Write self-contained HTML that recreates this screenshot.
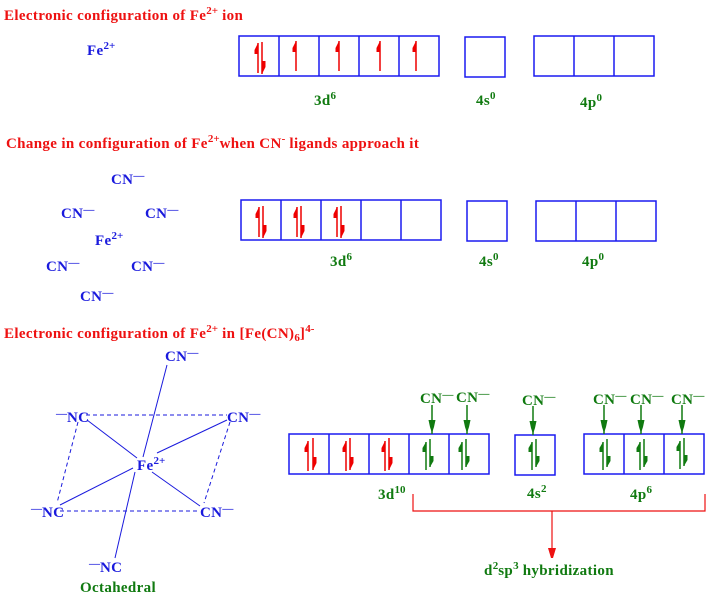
<!DOCTYPE html>
<html><head><meta charset="utf-8"><style>
html,body{margin:0;padding:0;background:#fff;}
svg{display:block;font-family:"Liberation Serif",serif;font-weight:bold;}
text{letter-spacing:0.35px;}
.r{fill:#ee1111;font-size:15px;}
.b{fill:#1a1add;font-size:15px;}
.g{fill:#107a10;font-size:15px;}
.sp{font-size:11px;letter-spacing:0;}
</style></head><body>
<svg width="712" height="597" viewBox="0 0 712 597" xmlns="http://www.w3.org/2000/svg">
<defs>
<g id="ur"><line x1="0" y1="0" x2="0" y2="30" stroke="#ee0000" stroke-width="1.5"/><polygon points="0,0 0,11 -3.5,11 -3.5,7" fill="#ee0000"/></g>
<g id="dr"><line x1="0" y1="0" x2="0" y2="32" stroke="#ee0000" stroke-width="1.5"/><polygon points="0,32 0,19 3.5,19 3.5,25" fill="#ee0000"/></g>
<g id="ug"><line x1="0" y1="0" x2="0" y2="28" stroke="#107a10" stroke-width="1.5"/><polygon points="0,0 0,10 -3.5,10 -3.5,6" fill="#107a10"/></g>
<g id="dg"><line x1="0" y1="0" x2="0" y2="28" stroke="#107a10" stroke-width="1.5"/><polygon points="0,28 0,17 3.5,17 3.5,22" fill="#107a10"/></g>
<g id="ag"><line x1="0" y1="0" x2="0" y2="29" stroke="#107a10" stroke-width="1.5"/><polygon points="-3.5,15 3.5,15 2,22 0,28 -2,22" fill="#107a10"/></g>
</defs>

<text x="4" y="20" class="r">Electronic configuration of Fe<tspan class="sp" dy="-6">2+</tspan><tspan dy="6"> ion</tspan></text>
<text x="6" y="148" class="r">Change in configuration of Fe<tspan class="sp" dy="-6">2+</tspan><tspan dy="6">when CN</tspan><tspan class="sp" dy="-6">-</tspan><tspan dy="6"> ligands approach it</tspan></text>
<text x="4" y="338" class="r">Electronic configuration of Fe<tspan class="sp" dy="-6">2+</tspan><tspan dy="6"> in [Fe(CN)</tspan><tspan class="sp" dy="3">6</tspan><tspan dy="-3">]</tspan><tspan class="sp" dy="-6">4-</tspan></text>

<text x="87" y="55" class="b">Fe<tspan class="sp" dy="-6">2+</tspan></text>
<g fill="none" stroke="#1a1af0" stroke-width="1.5">
<rect x="239" y="36" width="200" height="40"/>
<line x1="279" y1="36" x2="279" y2="76"/><line x1="319" y1="36" x2="319" y2="76"/><line x1="359" y1="36" x2="359" y2="76"/><line x1="399" y1="36" x2="399" y2="76"/>
<rect x="465" y="37" width="40" height="40"/>
<rect x="534" y="36" width="120" height="40"/>
<line x1="574" y1="36" x2="574" y2="76"/><line x1="614" y1="36" x2="614" y2="76"/>
</g>
<use href="#ur" x="258" y="43"/><use href="#dr" x="262" y="42"/>
<use href="#ur" x="296" y="41"/><use href="#ur" x="339" y="41"/><use href="#ur" x="380" y="41"/><use href="#ur" x="416" y="41"/>
<text x="314" y="105" class="g">3d<tspan class="sp" dy="-6">6</tspan></text>
<text x="476" y="105" class="g">4s<tspan class="sp" dy="-6">0</tspan></text>
<text x="580" y="107" class="g">4p<tspan class="sp" dy="-6">0</tspan></text>

<text x="111" y="184" class="b">CN<tspan class="sp" dy="-5">—</tspan></text>
<text x="61" y="218" class="b">CN<tspan class="sp" dy="-5">—</tspan></text>
<text x="145" y="218" class="b">CN<tspan class="sp" dy="-5">—</tspan></text>
<text x="95" y="245" class="b">Fe<tspan class="sp" dy="-6">2+</tspan></text>
<text x="46" y="271" class="b">CN<tspan class="sp" dy="-5">—</tspan></text>
<text x="131" y="271" class="b">CN<tspan class="sp" dy="-5">—</tspan></text>
<text x="80" y="301" class="b">CN<tspan class="sp" dy="-5">—</tspan></text>
<g fill="none" stroke="#1a1af0" stroke-width="1.5">
<rect x="241" y="200" width="200" height="40"/>
<line x1="281" y1="200" x2="281" y2="240"/><line x1="321" y1="200" x2="321" y2="240"/><line x1="361" y1="200" x2="361" y2="240"/><line x1="401" y1="200" x2="401" y2="240"/>
<rect x="467" y="201" width="40" height="40"/>
<rect x="536" y="201" width="120" height="40"/>
<line x1="576" y1="201" x2="576" y2="241"/><line x1="616" y1="201" x2="616" y2="241"/>
</g>
<use href="#ur" x="259" y="207"/><use href="#dr" x="263" y="206"/>
<use href="#ur" x="297" y="207"/><use href="#dr" x="301" y="206"/>
<use href="#ur" x="337" y="207"/><use href="#dr" x="341" y="206"/>
<text x="330" y="266" class="g">3d<tspan class="sp" dy="-6">6</tspan></text>
<text x="479" y="266" class="g">4s<tspan class="sp" dy="-6">0</tspan></text>
<text x="582" y="266" class="g">4p<tspan class="sp" dy="-6">0</tspan></text>

<g stroke="#1a1add" stroke-width="1" fill="none">
<line x1="167" y1="365" x2="143" y2="457"/>
<line x1="135" y1="472" x2="115" y2="558"/>
<line x1="87" y1="420" x2="137" y2="458"/>
<line x1="227" y1="420" x2="157" y2="453"/>
<line x1="60" y1="505" x2="133" y2="468"/>
<line x1="152" y1="472" x2="200" y2="506"/>
<g stroke-dasharray="4,3">
<line x1="86" y1="415" x2="227" y2="415"/>
<line x1="60" y1="511" x2="200" y2="511"/>
<line x1="78" y1="422" x2="57" y2="503"/>
<line x1="230" y1="422" x2="204" y2="503"/>
</g>
</g>
<text x="165" y="361" class="b">CN<tspan class="sp" dy="-5">—</tspan></text>
<text x="56" y="422" class="b"><tspan class="sp" dy="-5">—</tspan><tspan dy="5">NC</tspan></text>
<text x="227" y="422" class="b">CN<tspan class="sp" dy="-5">—</tspan></text>
<text x="137" y="470" class="b">Fe<tspan class="sp" dy="-6">2+</tspan></text>
<text x="31" y="517" class="b"><tspan class="sp" dy="-5">—</tspan><tspan dy="5">NC</tspan></text>
<text x="200" y="517" class="b">CN<tspan class="sp" dy="-5">—</tspan></text>
<text x="89" y="572" class="b"><tspan class="sp" dy="-5">—</tspan><tspan dy="5">NC</tspan></text>
<text x="80" y="592" class="g">Octahedral</text>

<g fill="none" stroke="#1a1af0" stroke-width="1.5">
<rect x="289" y="434" width="200" height="40"/>
<line x1="329" y1="434" x2="329" y2="474"/><line x1="369" y1="434" x2="369" y2="474"/><line x1="409" y1="434" x2="409" y2="474"/><line x1="449" y1="434" x2="449" y2="474"/>
<rect x="515" y="435" width="40" height="40"/>
<rect x="584" y="434" width="120" height="40"/>
<line x1="624" y1="434" x2="624" y2="474"/><line x1="664" y1="434" x2="664" y2="474"/>
</g>
<use href="#ur" x="308" y="441"/><use href="#dr" x="313" y="438"/>
<use href="#ur" x="346" y="441"/><use href="#dr" x="350" y="438"/>
<use href="#ur" x="385" y="441"/><use href="#dr" x="389" y="438"/>
<use href="#ug" x="426" y="442"/><use href="#dg" x="430" y="439"/>
<use href="#ug" x="462" y="442"/><use href="#dg" x="466" y="439"/>
<use href="#ug" x="532" y="442"/><use href="#dg" x="536" y="439"/>
<use href="#ug" x="603" y="442"/><use href="#dg" x="607" y="439"/>
<use href="#ug" x="640" y="442"/><use href="#dg" x="644" y="439"/>
<use href="#ug" x="680" y="441"/><use href="#dg" x="684" y="438"/>

<text x="420" y="403" class="g">CN<tspan class="sp" dy="-5">—</tspan></text>
<text x="456" y="402" class="g">CN<tspan class="sp" dy="-5">—</tspan></text>
<text x="522" y="405" class="g">CN<tspan class="sp" dy="-5">—</tspan></text>
<text x="593" y="404" class="g">CN<tspan class="sp" dy="-5">—</tspan></text>
<text x="630" y="404" class="g">CN<tspan class="sp" dy="-5">—</tspan></text>
<text x="671" y="404" class="g">CN<tspan class="sp" dy="-5">—</tspan></text>
<use href="#ag" x="432" y="405"/><use href="#ag" x="467" y="405"/><use href="#ag" x="533" y="406"/>
<use href="#ag" x="604" y="405"/><use href="#ag" x="641" y="405"/><use href="#ag" x="682" y="405"/>

<text x="378" y="499" class="g">3d<tspan class="sp" dy="-6">10</tspan></text>
<text x="527" y="498" class="g">4s<tspan class="sp" dy="-6">2</tspan></text>
<text x="630" y="499" class="g">4p<tspan class="sp" dy="-6">6</tspan></text>

<g stroke="#ee1111" stroke-width="1.2" fill="none">
<polyline points="413,494 413,511 705,511 705,494"/>
<line x1="552" y1="511" x2="552" y2="558"/>
</g>
<polygon points="548,548 556,548 553,558 551,558" fill="#ee1111"/>
<text x="484" y="575" class="g">d<tspan class="sp" dy="-6">2</tspan><tspan dy="6">sp</tspan><tspan class="sp" dy="-6">3</tspan><tspan dy="6"> hybridization</tspan></text>
</svg>
</body></html>
